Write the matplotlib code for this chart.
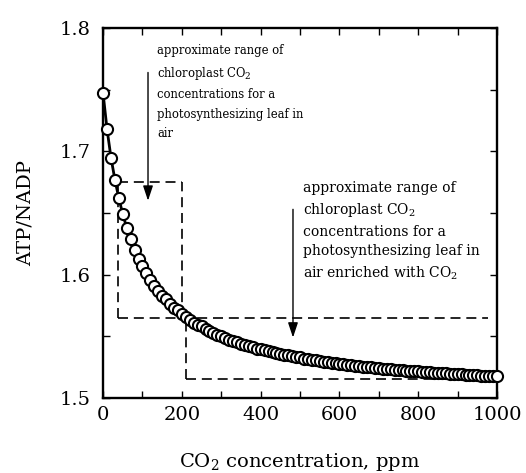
import numpy as np
import matplotlib
matplotlib.use('Agg')
import matplotlib.pyplot as plt

plt.rcParams['font.family'] = 'DejaVu Serif'
plt.rcParams['mathtext.fontset'] = 'dejavuserif'

# CO2 (ppm) and ATP/NADP
co2 = np.arange(0, 1001, 10)
ratio = [1.747, 1.718, 1.695, 1.677, 1.662, 1.649, 1.638, 1.629, 1.620, 1.613,
         1.607, 1.601, 1.596, 1.591, 1.587, 1.583, 1.580, 1.576, 1.573, 1.571,
         1.568, 1.566, 1.563, 1.561, 1.559, 1.558, 1.556, 1.554, 1.553, 1.551,
         1.550, 1.549, 1.547, 1.546, 1.545, 1.544, 1.543, 1.542, 1.541, 1.540,
         1.5395, 1.539, 1.538, 1.537, 1.5365, 1.536, 1.535, 1.5345, 1.534, 1.5335,
         1.533, 1.532, 1.5315, 1.531, 1.5305, 1.530, 1.5295, 1.529, 1.5285, 1.528,
         1.5278, 1.5274, 1.527, 1.5266, 1.5262, 1.5259, 1.5255, 1.5252, 1.5249, 1.5245,
         1.5242, 1.5239, 1.5236, 1.5233, 1.523, 1.5228, 1.5225, 1.5222, 1.522, 1.5217,
         1.5215, 1.5212, 1.521, 1.5207, 1.5205, 1.5203, 1.5201, 1.5199, 1.5197, 1.5195,
         1.5193, 1.5191, 1.5189, 1.5187, 1.5185, 1.5183, 1.5181, 1.518, 1.5178, 1.5176,
         1.5175]

# dashed range boxes (ppm, ATP/NADP)
air_x = [38, 200]
air_y = [1.565, 1.675]
enr_x = [210, 977]
enr_y = [1.515, 1.565]

txt_air = ('approximate range of\nchloroplast CO$_2$\nconcentrations for a\n'
           'photosynthesizing leaf in\nair')
txt_enr = ('approximate range of\nchloroplast CO$_2$\nconcentrations for a\n'
           'photosynthesizing leaf in\nair enriched with CO$_2$')

fig = plt.figure(figsize=(5.26, 4.73), dpi=100)
ax = fig.add_axes([0.196, 0.1586, 0.749, 0.782])

dash = dict(color='k', lw=1.2, ls=(0, (6, 3.5)), zorder=1)
ax.plot([air_x[0], air_x[0]], air_y, **dash)
ax.plot(air_x, [air_y[1], air_y[1]], **dash)
ax.plot([air_x[1], air_x[1]], air_y, **dash)
ax.plot([air_x[0], enr_x[1]], [air_y[0], air_y[0]], **dash)
ax.plot([enr_x[0], enr_x[0]], enr_y, **dash)
ax.plot(enr_x, [enr_y[0], enr_y[0]], **dash)

ax.plot(co2, ratio, '-o', color='k', lw=2, ms=8, mfc='white', mec='k',
        mew=1.5, clip_on=False, zorder=3)

arr = dict(arrowstyle='-|>,head_length=0.9,head_width=0.3', color='k', lw=1,
           mutation_scale=10, shrinkA=0, shrinkB=0)
ax.annotate('', xy=(114, 1.660), xytext=(114, 1.764), arrowprops=arr)
ax.annotate('', xy=(482, 1.549), xytext=(482, 1.653), arrowprops=arr)

ax.text(138, 1.787, txt_air, fontsize=9.3, fontstretch='condensed',
        va='top', ha='left', linespacing=1.65)
ax.text(508, 1.676, txt_enr, fontsize=10, va='top', ha='left', linespacing=1.5)

ax.set_xlim(0, 1000)
ax.set_ylim(1.5, 1.8)
ax.set_xticks(np.arange(0, 1001, 200))
ax.set_xticks(np.arange(0, 1001, 100), minor=True)
ax.set_yticks([1.5, 1.6, 1.7, 1.8])
ax.set_yticks(np.arange(1.5, 1.801, 0.05), minor=True)
ax.set_yticklabels(['1.5', '1.6', '1.7', '1.8'])
ax.tick_params(which='both', direction='in', top=True, right=True,
               length=5, width=1, labelsize=14)
ax.tick_params(axis='x', pad=6)
ax.tick_params(axis='y', pad=9)
for s in ax.spines.values():
    s.set_linewidth(1.7)

ax.set_xlabel('CO$_2$ concentration, ppm', fontsize=14, labelpad=19)
ax.set_ylabel('ATP/NADP', fontsize=14, labelpad=18)

fig.savefig('out.png', dpi=100)
